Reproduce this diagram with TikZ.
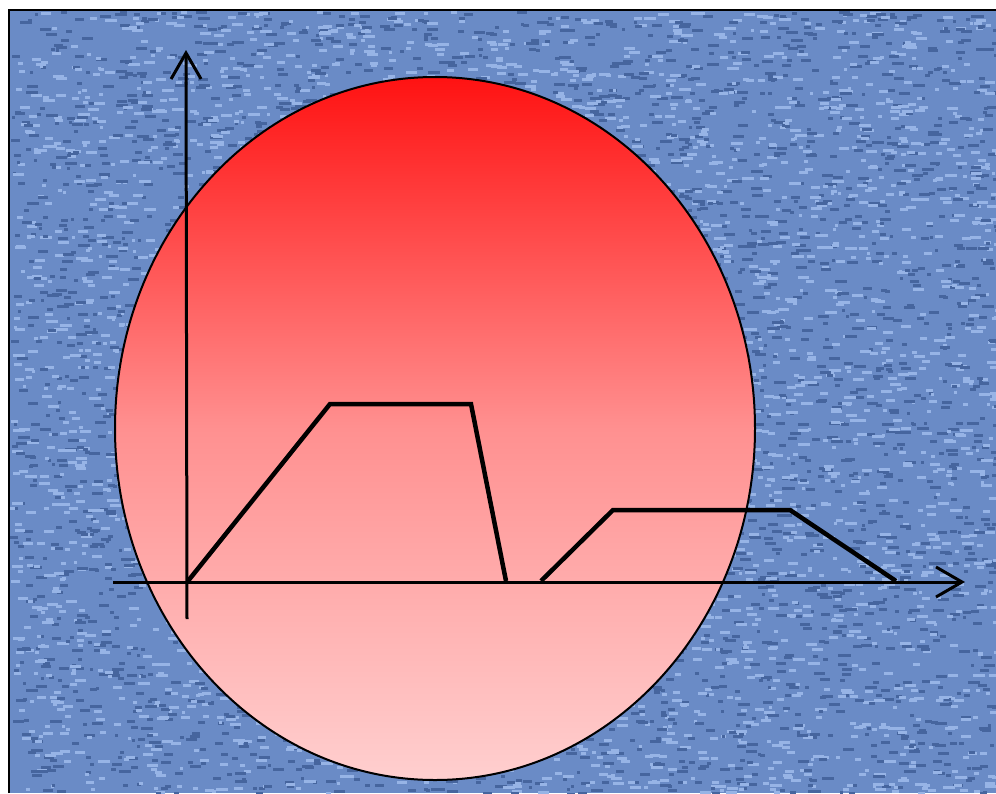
\documentclass[tikz,border=0pt]{standalone}
\usetikzlibrary{arrows.meta}
\definecolor{denim}{HTML}{6A8BC6}
\definecolor{denimdark}{HTML}{46659E}
\definecolor{denimlight}{HTML}{97B4E6}
\definecolor{sunhi}{HTML}{FF1212}
\definecolor{sunmid}{HTML}{FF9090}
\definecolor{sunlo}{HTML}{FFCFCF}

\begin{document}
\begin{tikzpicture}[x=1pt,y=-1pt,
  frame/.style={draw=black,line width=2.5pt},
  axis/.style={-{Straight Barb[length=26pt,width=30pt]},draw=black,line width=3pt},
  curve/.style={draw=black,line width=4.5pt,line join=miter},
  sun/.style={draw=black,line width=2pt,top color=sunhi,bottom color=sunlo,middle color=sunmid}]
\useasboundingbox (0,0) rectangle (996,793);
% textured backdrop
\fill[denim] (8.8,10) rectangle (996,793);
\begin{scope}
\clip (10,11) rectangle (996,793);
\pgfmathsetseed{4242}
\foreach \k in {1,...,7000}{
  \pgfmathsetmacro\sx{10+986*rnd}
  \pgfmathsetmacro\sy{11+782*rnd}
  \pgfmathsetmacro\sw{3+9*rnd}
  \ifodd\k \def\sc{denimdark}\else\def\sc{denimlight}\fi
  \fill[fill=\sc] (\sx,\sy) rectangle ++(\sw,3);
}
\end{scope}
\draw[frame] (8.8,793) -- (8.8,10) -- (996,10);
% sun disc
\draw[sun] (435,428.5) ellipse [x radius=320, y radius=351.5];
% axes
\coordinate (xs) at (113,582);
\coordinate (xe) at (965,582);
\coordinate (ys) at (187,619);
\coordinate (ye) at (186,50);
\draw[axis] (xs) -- (xe);
\draw[axis] (ys) -- (ye);
% profile
\coordinate (o)  at (188,581);
\coordinate (p1) at (330,404);
\coordinate (p2) at (471,404);
\coordinate (p3) at (506,581);
\coordinate (q0) at (541,581);
\coordinate (q1) at (613,510);
\coordinate (q2) at (790,510);
\coordinate (q3) at (896,581);
\draw[curve] (o) -- (p1) -- (p2) -- (p3);
\draw[curve] (q0) -- (q1) -- (q2) -- (q3);
\end{tikzpicture}
\end{document}
